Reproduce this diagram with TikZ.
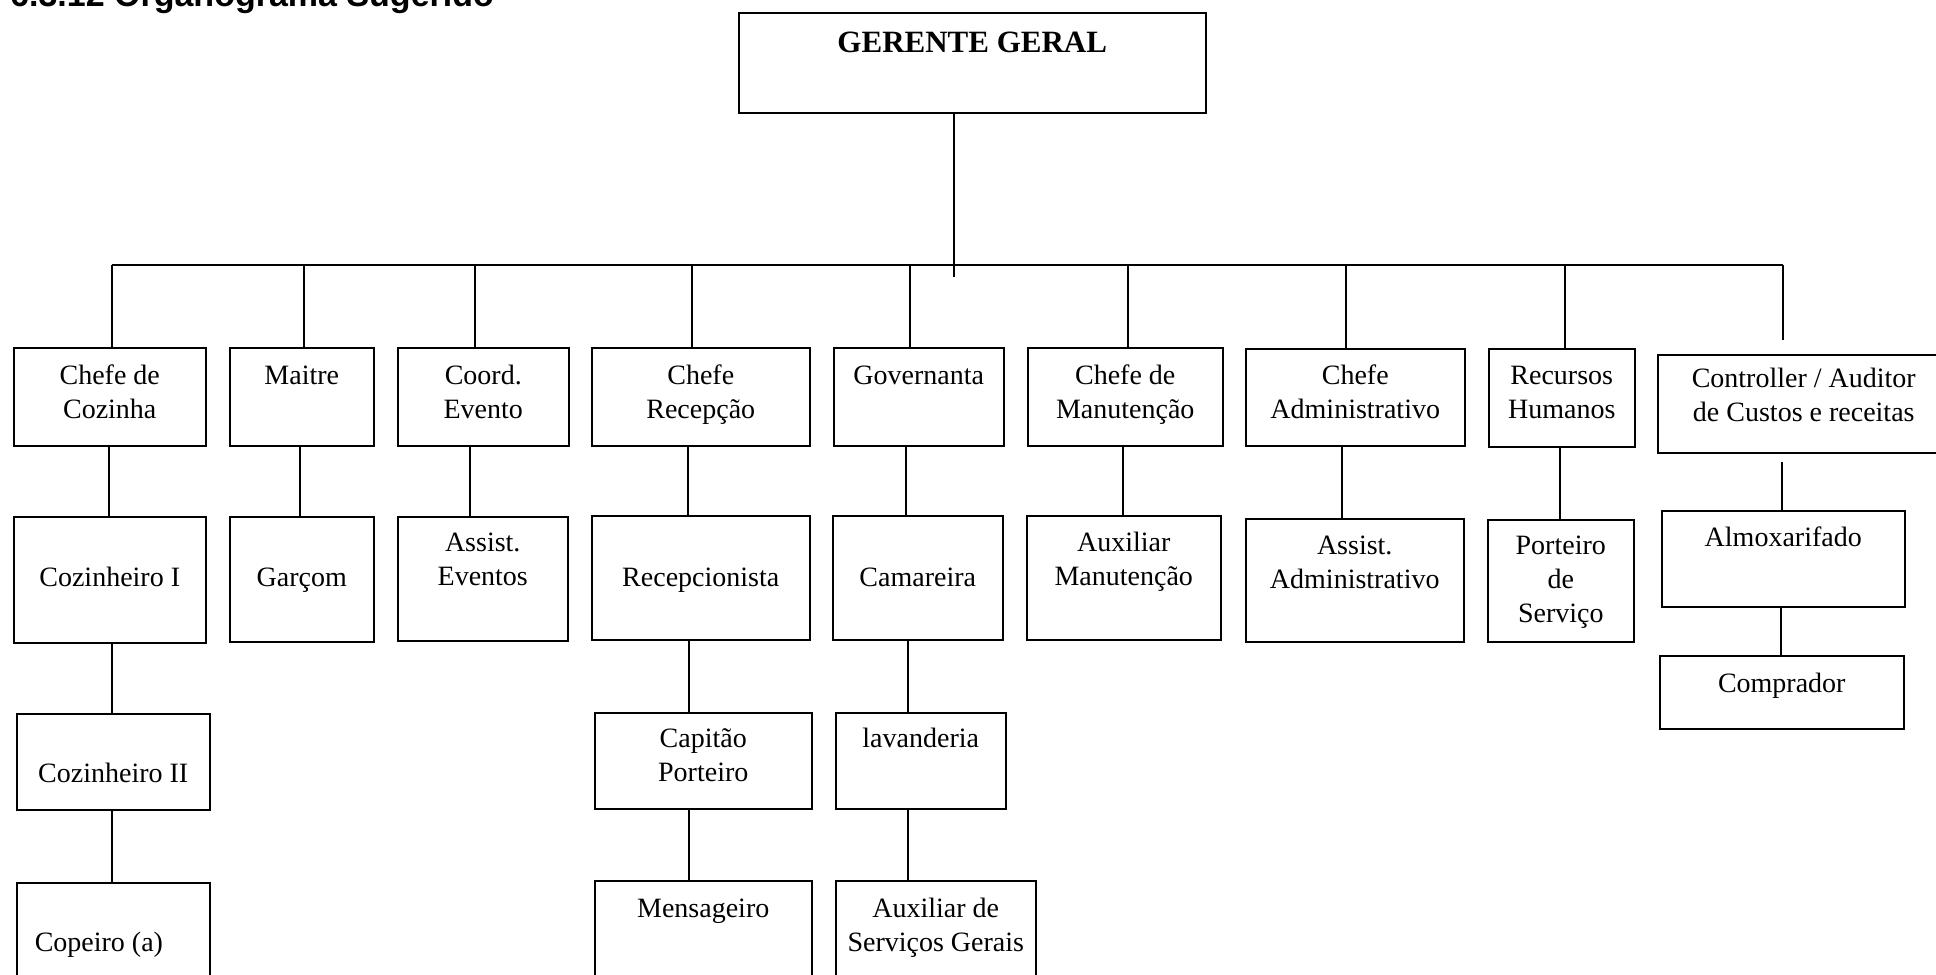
\documentclass[tikz,border=0pt]{standalone}
\usepackage{fontspec}
\setmainfont{Liberation Serif}
\newfontfamily\titlefont{Liberation Sans}
\newcommand\bxt[4]{\parbox[c][#2bp][t]{#1bp}{\centering\rule{0pt}{#3bp}#4\par}}
\begin{document}
\begin{tikzpicture}[x=1bp,y=-1bp,
  box/.style={draw, line width=1.5bp, inner sep=0pt, anchor=north west, font=\fontsize{28bp}{34bp}\selectfont},
  conn/.style={line width=1.5bp}]
\useasboundingbox (0,0) rectangle (1936,974);
% title (cut off at the top edge)
\node[anchor=base west, inner sep=0pt, font=\titlefont\bfseries\fontsize{34bp}{40bp}\selectfont] (title) at (10,6) {6.3.12 Organograma Sugerido};
% top
\node[box] (gg) at (738,12) {\parbox[c][100bp][t]{467bp}{\centering\fontsize{31bp}{36bp}\selectfont\bfseries\rule{0pt}{40bp}GERENTE GERAL\par}};
% row 1
\node[box] (cc)  at (13,347)   {\bxt{192}{98}{36.5}{Chefe de\\Cozinha}};
\node[box] (mai) at (229,347)  {\bxt{144}{98}{36.5}{Maitre}};
\node[box] (coe) at (397,347)  {\bxt{171}{98}{36.5}{Coord.\\Evento}};
\node[box] (cre) at (591,347)  {\bxt{218}{98}{36.5}{Chefe\\Recepção}};
\node[box] (gov) at (833,347)  {\bxt{170}{98}{36.5}{Governanta}};
\node[box] (cma) at (1027,347) {\bxt{195}{98}{36.5}{Chefe de\\Manutenção}};
\node[box] (cad) at (1245,348) {\bxt{219}{97}{36}{Chefe\\Administrativo}};
\node[box] (rh)  at (1488,348) {\bxt{146}{98}{36}{Recursos\\Humanos}};
\node[box] (ctl) at (1657,354) {\bxt{292}{98}{32.5}{Controller / Auditor\\de Custos e receitas}};
% row 2
\node[box] (coz1) at (13,516)  {\bxt{192}{126}{69.5}{Cozinheiro I}};
\node[box] (gar)  at (229,516) {\bxt{144}{125}{69.5}{Garçom}};
\node[box] (aev)  at (397,516) {\bxt{170}{124}{34.5}{Assist.\\Eventos}};
\node[box] (rec)  at (591,515) {\bxt{218}{124}{70.5}{Recepcionista}};
\node[box] (cam)  at (832,515) {\bxt{170}{124}{70.5}{Camareira}};
\node[box] (ama)  at (1026,515) {\bxt{194}{124}{35.5}{Auxiliar\\Manutenção}};
\node[box] (aad)  at (1245,518) {\bxt{218}{123}{35.5}{Assist.\\Administrativo}};
\node[box] (pse)  at (1487,519) {\bxt{146}{122}{34.5}{Porteiro\\de\\Serviço}};
\node[box] (alm)  at (1661,510) {\bxt{243}{96}{35.5}{Almoxarifado}};
\node[box] (com)  at (1659,655) {\bxt{244}{73}{36.5}{Comprador}};
% row 3
\node[box] (coz2) at (16,713)  {\bxt{193}{96}{68.5}{Cozinheiro II}};
\node[box] (cap)  at (594,712) {\bxt{217}{96}{34.5}{Capitão\\Porteiro}};
\node[box] (lav)  at (835,712) {\bxt{170}{96}{34.5}{lavanderia}};
% row 4
\node[box] (cop)  at (16,882)  {\parbox[c][125bp][t]{193bp}{\raggedright\hspace*{18bp}\rule{0pt}{68.5bp}Copeiro (a)\par}};
\node[box] (men)  at (594,880) {\bxt{217}{125}{36.5}{Mensageiro}};
\node[box] (asg)  at (835,880) {\bxt{200}{125}{36.5}{Auxiliar de\\Serviços Gerais}};
% coordinates
\coordinate (ggx) at (954,277);
\coordinate (b1) at (112,265);
\coordinate (b2) at (304,265);
\coordinate (b3) at (475,265);
\coordinate (b4) at (692,265);
\coordinate (b5) at (910,265);
\coordinate (b6) at (1128,265);
\coordinate (b7) at (1346,265);
\coordinate (b8) at (1565,265);
\coordinate (b9) at (1783,265);
\coordinate (b9e) at (1783,340);
\coordinate (l1) at (109,0);
\coordinate (l2) at (300,0);
\coordinate (l3) at (470,0);
\coordinate (l4) at (688,0);
\coordinate (l5) at (906,0);
\coordinate (l6) at (1123,0);
\coordinate (l7) at (1342,0);
\coordinate (l8) at (1560,0);
\coordinate (l9) at (1782,462);
\coordinate (k1) at (112,0);
\coordinate (k4) at (689,0);
\coordinate (k5) at (908,0);
\coordinate (k9) at (1781,0);
% connectors
\draw[conn] (ggx |- gg.south) -- (ggx);
\draw[conn] (b1) -- (b9);
\draw[conn] (b1) -- (b1 |- cc.north);
\draw[conn] (b2) -- (b2 |- mai.north);
\draw[conn] (b3) -- (b3 |- coe.north);
\draw[conn] (b4) -- (b4 |- cre.north);
\draw[conn] (b5) -- (b5 |- gov.north);
\draw[conn] (b6) -- (b6 |- cma.north);
\draw[conn] (b7) -- (b7 |- cad.north);
\draw[conn] (b8) -- (b8 |- rh.north);
\draw[conn] (b9) -- (b9e);
\draw[conn] (l1 |- cc.south) -- (l1 |- coz1.north);
\draw[conn] (l2 |- mai.south) -- (l2 |- gar.north);
\draw[conn] (l3 |- coe.south) -- (l3 |- aev.north);
\draw[conn] (l4 |- cre.south) -- (l4 |- rec.north);
\draw[conn] (l5 |- gov.south) -- (l5 |- cam.north);
\draw[conn] (l6 |- cma.south) -- (l6 |- ama.north);
\draw[conn] (l7 |- cad.south) -- (l7 |- aad.north);
\draw[conn] (l8 |- rh.south) -- (l8 |- pse.north);
\draw[conn] (l9) -- (l9 |- alm.north);
\draw[conn] (k1 |- coz1.south) -- (k1 |- coz2.north);
\draw[conn] (k1 |- coz2.south) -- (k1 |- cop.north);
\draw[conn] (k4 |- rec.south) -- (k4 |- cap.north);
\draw[conn] (k4 |- cap.south) -- (k4 |- men.north);
\draw[conn] (k5 |- cam.south) -- (k5 |- lav.north);
\draw[conn] (k5 |- lav.south) -- (k5 |- asg.north);
\draw[conn] (k9 |- alm.south) -- (k9 |- com.north);
\end{tikzpicture}
\end{document}
